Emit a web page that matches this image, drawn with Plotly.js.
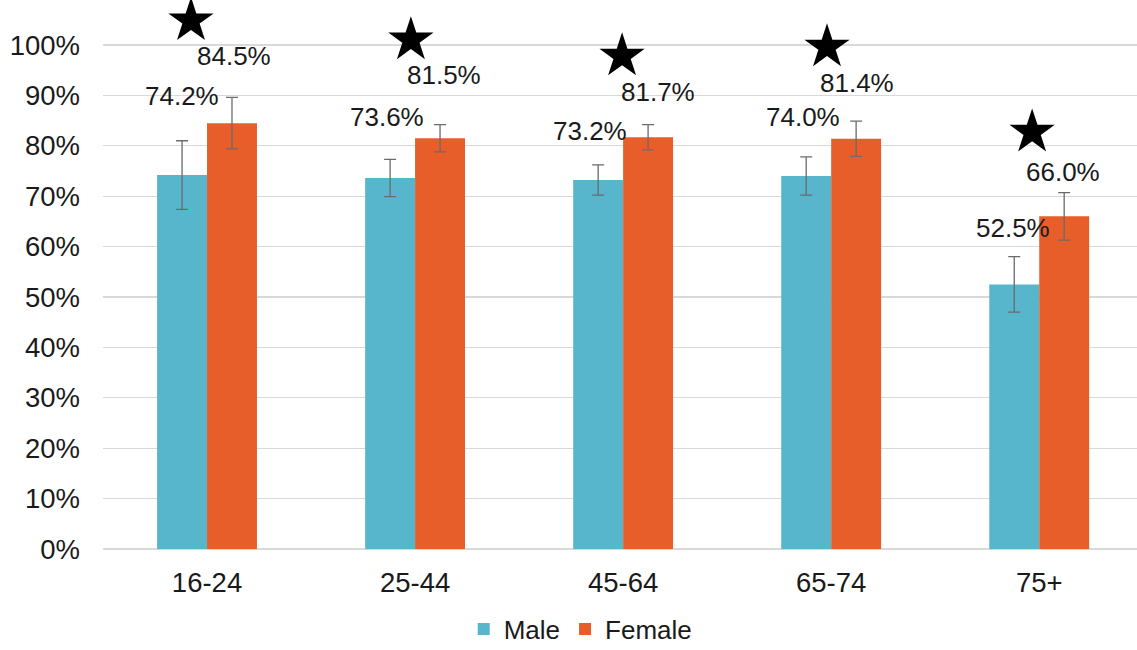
<!DOCTYPE html>
<html>
<head>
<meta charset="utf-8">
<script src="https://cdn.plot.ly/plotly-3.0.1.min.js"></script>
<style>html,body{margin:0;padding:0;background:#fff}#chart{width:1137px;height:650px}</style>
</head>
<body>
<div id="chart"></div>
<script>
// ---- data ----
const categories = ['16-24', '25-44', '45-64', '65-74', '75+'];
const maleValues = [74.2, 73.6, 73.2, 74.0, 52.5];
const femaleValues = [84.5, 81.5, 81.7, 81.4, 66.0];
const maleErrors = [6.8, 3.7, 3.0, 3.8, 5.5];
const femaleErrors = [5.1, 2.7, 2.5, 3.5, 4.7];
const significant = [true, true, true, true, true];
const yTickValues = [0, 10, 20, 30, 40, 50, 60, 70, 80, 90, 100];
const yTickLabels = yTickValues.map(v => v + '%');

// ---- layout-only placement (label / star positions) ----
const maleLabelY = [89.9, 85.8, 83.0, 85.7, 63.6];
const femaleLabelY = [97.8, 94.0, 90.7, 92.5, 74.9];
const maleLabelShift = [-25, -28, -33, -28, -26];
const femaleLabelShift = [27, 29, 35, 26, 24];
const starY = [104.8, 101.0, 97.8, 99.6, 82.7];
const starShift = [-0.077, -0.02, -0.005, -0.02, -0.034];

const MALE = '#57B6CB', FEMALE = '#E85E2A';
const FONT = 'Liberation Sans, Arial, sans-serif';
const idx = categories.map((c, i) => i);

const traces = [
  {type: 'bar', name: 'Male', x: idx, y: maleValues,
   marker: {color: MALE},
   error_y: {type: 'data', array: maleErrors, visible: true, color: '#6b6b6b', thickness: 1.3, width: 6}},
  {type: 'bar', name: 'Female', x: idx, y: femaleValues,
   marker: {color: FEMALE},
   error_y: {type: 'data', array: femaleErrors, visible: true, color: '#6b6b6b', thickness: 1.3, width: 6}},
  {type: 'scatter', mode: 'markers', showlegend: false, cliponaxis: false,
   x: idx.filter(i => significant[i]).map(i => i + starShift[i]),
   y: idx.filter(i => significant[i]).map(i => starY[i]),
   marker: {symbol: 'star', size: 34, color: '#000', line: {width: 0}}}
];

const annotations = [];
categories.forEach((c, i) => {
  annotations.push({x: i, y: maleLabelY[i], xref: 'x', yref: 'y', text: maleValues[i].toFixed(1) + '%',
    showarrow: false, xshift: maleLabelShift[i], font: {family: FONT, size: 26, color: '#1a1a1a'}});
  annotations.push({x: i, y: femaleLabelY[i], xref: 'x', yref: 'y', text: femaleValues[i].toFixed(1) + '%',
    showarrow: false, xshift: femaleLabelShift[i], font: {family: FONT, size: 26, color: '#1a1a1a'}});
});

const layout = {
  width: 1137, height: 650,
  margin: {l: 103, r: 0, t: 0, b: 101, autoexpand: false},
  paper_bgcolor: '#fff', plot_bgcolor: '#fff',
  barmode: 'group', bargap: 0.52, bargroupgap: 0,
  font: {family: FONT, size: 27, color: '#1a1a1a'},
  xaxis: {range: [-0.5, 4.47], tickvals: idx, ticktext: categories, showgrid: false, zeroline: false, showline: false,
    ticks: '', ticklabelstandoff: 14, tickfont: {family: FONT, size: 27.5, color: '#1a1a1a'}},
  yaxis: {range: [0, 108.93], tickvals: yTickValues, ticktext: yTickLabels,
    showgrid: true, gridcolor: '#D9D9D9', gridwidth: 1.3, zeroline: true, zerolinecolor: '#D9D9D9', zerolinewidth: 1.3,
    showline: false, ticks: '', ticklabelstandoff: 22, tickfont: {family: FONT, size: 27.5, color: '#1a1a1a'}},
  showlegend: true,
  legend: {orientation: 'h', x: 0.462, xanchor: 'center', xref: 'paper', yref: 'container', y: 0.032, yanchor: 'middle',
    font: {family: FONT, size: 26, color: '#1a1a1a'}, itemwidth: 30, traceorder: 'normal'},
  annotations: annotations
};

Plotly.newPlot('chart', traces, layout, {displayModeBar: false, staticPlot: true});
</script>
</body>
</html>
